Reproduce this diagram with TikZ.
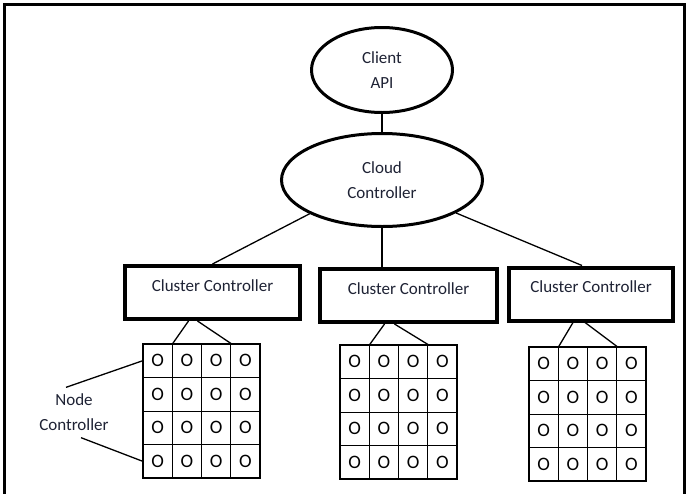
\documentclass[tikz,border=0pt]{standalone}
\usepackage{fontspec}
\setmainfont{Carlito}
\usetikzlibrary{shapes.geometric,calc}
\definecolor{txt}{RGB}{30,34,52}

\begin{document}
\begin{tikzpicture}[
  x=1pt, y=-1pt,
  every node/.style={
    font=\fontsize{17}{25}\selectfont,
    text=txt,
    align=center,
    inner sep=1pt,
  },
  api/.style={
    draw,
    ellipse,
    line width=3pt,
  },
  ccbox/.style={
    draw,
    rectangle,
    line width=4pt,
    minimum height=53pt,
    text depth=14pt,
  },
  cell/.style={
    draw,
    rectangle,
    line width=0.8pt,
    minimum width=29.25pt,
    minimum height=33.5pt,
    inner sep=0pt,
    font=\fontsize{19}{19}\selectfont,
    text=black,
  },
  link/.style={
    draw,
    line width=1.3pt,
  },
]
\useasboundingbox (0,0) rectangle (687,493);

% Frame
\draw[line width=3pt] (4,495) -- (4,4) -- (684.5,4) -- (684.5,495);

% Top of the tree
\node[api, minimum width=141pt, minimum height=85pt] (client) at (382,70) {Client\\API};
\node[api, minimum width=201pt, minimum height=93pt] (cloud) at (382,180) {Cloud\\Controller};

% Cluster controllers
\node[ccbox, minimum width=175pt] (cc1) at (212.5,292.5) {Cluster Controller};
\node[ccbox, minimum width=177pt] (cc2) at (408.5,295.5) {Cluster Controller};
\node[ccbox, minimum width=164pt] (cc3) at (591,294) {Cluster Controller};

% Node grids
\foreach \g/\gx/\gy in {1/143/344, 2/340/345, 3/529/347} {
  \foreach \r in {1,...,4} {
    \foreach \c in {1,...,4} {
      \node[cell] (g\g-\r-\c) at ({\gx+(\c-0.5)*29.25}, {\gy+(\r-0.5)*33.5}) {O};
    }
  }
  \draw[line width=2pt] (g\g-1-1.north west) rectangle (g\g-4-4.south east);
}

\node (nc) at (74,412) {Node\\Controller};

% Connectors
\draw[link] (client) -- (cloud);
\draw[link] (cloud.205) -- (cc1.north);
\draw[link] (cloud.south) -- (cloud.south |- cc2.north);
\draw[link] (cloud.336) -- ($(cc3.north)+(-9,0)$);
\foreach \i/\a/\b in {1/-24/-15, 2/-24/-14, 3/-18/-6} {
  \draw[link] ($(cc\i.south)+(\a,0)$) -- (g\i-1-1.north east);
  \draw[link] ($(cc\i.south)+(\b,0)$) -- (g\i-1-3.north east);
}
\draw[link] ($(nc.north)+(-8,-5)$) -- (g1-1-1.west);
\draw[link] ($(nc.south)+(7,6)$) -- (g1-4-1.west);

\end{tikzpicture}
\end{document}
